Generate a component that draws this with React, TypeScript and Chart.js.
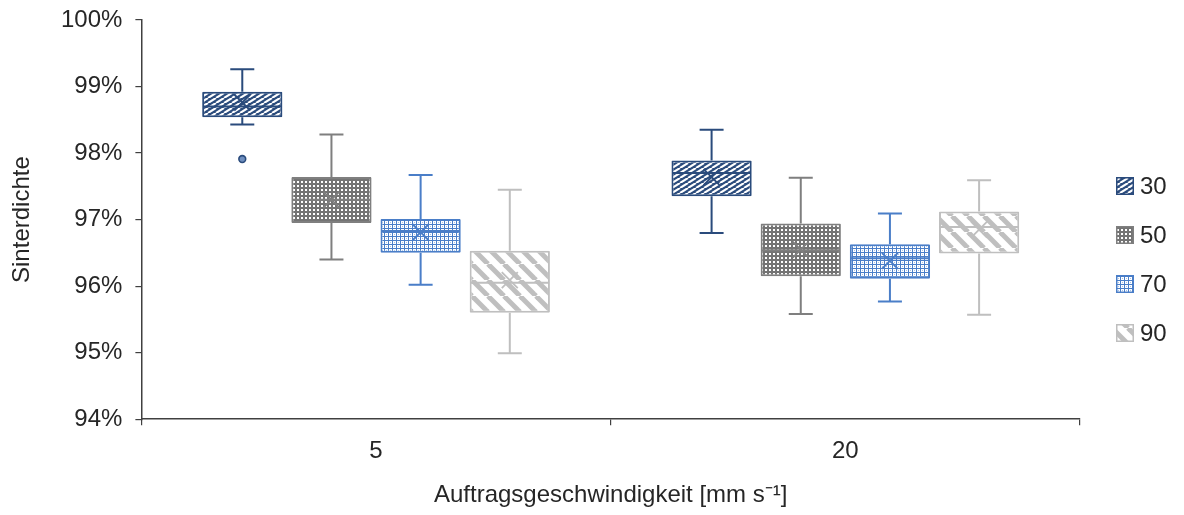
import { useEffect, useRef } from 'react';
import { Chart, registerables } from 'chart.js';

Chart.register(...registerables);

// ---- data ----
const categories = ['5', '20'];
const seriesNames = ['30', '50', '70', '90'];
// per series: [value at "5", value at "20"]
const whiskerLow = [[98.43, 96.80], [96.40, 95.58], [96.02, 95.77], [94.99, 95.57]];
const quartile1 = [[98.54, 97.35], [96.95, 96.15], [96.50, 96.11], [95.60, 96.49]];
const medians = [[98.70, 97.70], [97.30, 96.54], [96.83, 96.42], [96.05, 96.89]];
const quartile3 = [[98.92, 97.89], [97.64, 96.94], [97.01, 96.63], [96.53, 97.12]];
const whiskerHigh = [[99.26, 98.35], [98.28, 97.63], [97.67, 97.09], [97.45, 97.59]];
const means = [[98.76, 97.64], [97.30, 96.55], [96.81, 96.38], [96.09, 96.85]];
const outliers = [[[97.91], []], [[], []], [[], []], [[], []]];
const yMin = 94;
const yMax = 100;
const yStep = 1;

// ---- styles ----
const strokeColors = ['#2A4B7C', '#7F7F7F', '#4A7EC8', '#BFBFBF'];
const textColor = '#262626';
const axisColor = '#404040';
const fontFamily = "'Liberation Sans', Arial, Helvetica, sans-serif";
const fontSize = 24;

function makePattern(kind: number): CanvasPattern | string {
  const c = document.createElement('canvas');
  const g = c.getContext('2d');
  if (!g) return strokeColors[kind];
  if (kind === 0) {
    c.width = 8; c.height = 5;
    g.fillStyle = '#2A4B7C';
    g.fillRect(0, 0, 8, 5);
    g.strokeStyle = '#ffffff';
    g.lineWidth = 2.1;
    for (const dx of [-8, 0, 8]) {
      g.beginPath();
      g.moveTo(dx, 5);
      g.lineTo(dx + 8, 0);
      g.stroke();
    }
  } else if (kind === 1) {
    c.width = 4; c.height = 4;
    g.fillStyle = '#747474';
    g.fillRect(0, 0, 4, 4);
    g.fillStyle = '#ffffff';
    g.fillRect(1, 1, 2, 2);
  } else if (kind === 2) {
    c.width = 4; c.height = 4;
    g.fillStyle = '#ffffff';
    g.fillRect(0, 0, 4, 4);
    g.fillStyle = '#4A7EC8';
    g.fillRect(0, 0, 4, 1);
    g.fillRect(0, 0, 1, 4);
    g.fillStyle = '#A9C3E8';
    g.fillRect(2, 2, 1, 1);
  } else {
    c.width = 16; c.height = 16;
    g.fillStyle = '#ffffff';
    g.fillRect(0, 0, 16, 16);
    g.strokeStyle = '#BFBFBF';
    g.lineWidth = 5;
    for (const dx of [-16, 0, 16]) {
      g.beginPath();
      g.moveTo(dx, 0);
      g.lineTo(dx + 16, 16);
      g.stroke();
    }
  }
  return g.createPattern(c, 'repeat') || strokeColors[kind];
}

export default function App() {
  const canvasRef = useRef<HTMLCanvasElement | null>(null);

  useEffect(() => {
    if (!canvasRef.current) return;
    const patterns = seriesNames.map((_, i) => makePattern(i));

    const boxExtras = {
      id: 'boxExtras',
      afterDatasetsDraw(chart: any) {
        const ctx = chart.ctx as CanvasRenderingContext2D;
        const yScale = chart.scales.y;
        chart.data.datasets.forEach((_ds: any, di: number) => {
          const meta = chart.getDatasetMeta(di);
          const color = strokeColors[di];
          meta.data.forEach((bar: any, ci: number) => {
            const { x, width } = bar.getProps(['x', 'width'], true);
            const yq1 = yScale.getPixelForValue(quartile1[di][ci]);
            const yq3 = yScale.getPixelForValue(quartile3[di][ci]);
            const ylo = yScale.getPixelForValue(whiskerLow[di][ci]);
            const yhi = yScale.getPixelForValue(whiskerHigh[di][ci]);
            const ymed = yScale.getPixelForValue(medians[di][ci]);
            const ymean = yScale.getPixelForValue(means[di][ci]);
            const cap = 12;
            ctx.save();
            ctx.strokeStyle = color;
            ctx.lineWidth = 2;
            ctx.lineCap = 'butt';
            ctx.beginPath();
            ctx.moveTo(x, yq3); ctx.lineTo(x, yhi);
            ctx.moveTo(x - cap, yhi); ctx.lineTo(x + cap, yhi);
            ctx.moveTo(x, yq1); ctx.lineTo(x, ylo);
            ctx.moveTo(x - cap, ylo); ctx.lineTo(x + cap, ylo);
            ctx.moveTo(x - width / 2 + 1, ymed); ctx.lineTo(x + width / 2 - 1, ymed);
            ctx.stroke();
            const m = 8;
            ctx.beginPath();
            ctx.moveTo(x - m, ymean - m); ctx.lineTo(x + m, ymean + m);
            ctx.moveTo(x - m, ymean + m); ctx.lineTo(x + m, ymean - m);
            ctx.lineWidth = 1.8;
            ctx.stroke();
            for (const v of outliers[di][ci]) {
              const yo = yScale.getPixelForValue(v);
              ctx.beginPath();
              ctx.arc(x, yo, 3.4, 0, Math.PI * 2);
              ctx.fillStyle = '#6F8FBF';
              ctx.fill();
              ctx.lineWidth = 1.6;
              ctx.stroke();
            }
            ctx.restore();
          });
        });
      },
    };

    const sideLegend = {
      id: 'sideLegend',
      afterDraw(chart: any) {
        const ctx = chart.ctx as CanvasRenderingContext2D;
        const area = chart.chartArea;
        const bx = area.right + 36;
        ctx.save();
        ctx.font = `${fontSize}px ${fontFamily}`;
        ctx.textBaseline = 'middle';
        ctx.textAlign = 'left';
        seriesNames.forEach((name, i) => {
          const cy = area.top + 166 + i * 49;
          ctx.fillStyle = patterns[i] as any;
          ctx.fillRect(bx, cy - 9, 18, 18);
          ctx.strokeStyle = strokeColors[i];
          ctx.lineWidth = 1.5;
          ctx.strokeRect(bx + 0.75, cy - 8.25, 16.5, 16.5);
          ctx.fillStyle = textColor;
          ctx.fillText(name, bx + 24, cy + 1);
        });
        ctx.restore();
      },
    };

    const chart = new Chart(canvasRef.current, {
      type: 'bar',
      data: {
        labels: categories,
        datasets: seriesNames.map((name, i) => ({
          label: name,
          data: quartile1[i].map((q1, j) => [q1, quartile3[i][j]]) as any,
          backgroundColor: patterns[i] as any,
          borderColor: strokeColors[i],
          borderWidth: 2,
          borderSkipped: false,
          borderRadius: 1,
          categoryPercentage: 0.76,
          barPercentage: 0.9,
        })),
      },
      options: {
        animation: false,
        responsive: true,
        maintainAspectRatio: false,
        layout: { padding: { left: 0, right: 96, top: 0, bottom: 0 } },
        plugins: {
          legend: { display: false },
          tooltip: { enabled: false },
        },
        scales: {
          x: {
            grid: {
              display: true,
              drawOnChartArea: false,
              drawTicks: true,
              tickLength: 6,
              color: axisColor,
              lineWidth: 1.2,
              offset: true,
            },
            border: { display: true, color: axisColor, width: 1.5 },
            ticks: {
              color: textColor,
              padding: 12,
              font: { size: fontSize, family: fontFamily },
            },
            title: {
              display: true,
              text: 'Auftragsgeschwindigkeit [mm s⁻¹]',
              color: textColor,
              font: { size: fontSize, family: fontFamily, lineHeight: 1 },
              padding: { top: 5, bottom: 0 },
            },
          },
          y: {
            min: yMin,
            max: yMax,
            afterFit: (axis: any) => {
              axis.paddingTop = 12;
            },
            grid: {
              display: true,
              drawOnChartArea: false,
              drawTicks: true,
              tickLength: 6,
              color: axisColor,
              lineWidth: 1.2,
            },
            border: { display: true, color: axisColor, width: 1.5 },
            ticks: {
              stepSize: yStep,
              color: textColor,
              padding: 13,
              font: { size: fontSize, family: fontFamily },
              callback: (v: any) => `${v}%`,
            },
            title: {
              display: true,
              text: 'Sinterdichte',
              color: textColor,
              font: { size: fontSize, family: fontFamily, lineHeight: 1 },
              padding: { top: 2, bottom: 14 },
            },
          },
        },
      },
      plugins: [boxExtras, sideLegend],
    });

    return () => chart.destroy();
  }, []);

  return (
    <div style={{ position: 'relative', width: '1168px', height: '499px' }}>
      <canvas ref={canvasRef} />
    </div>
  );
}
